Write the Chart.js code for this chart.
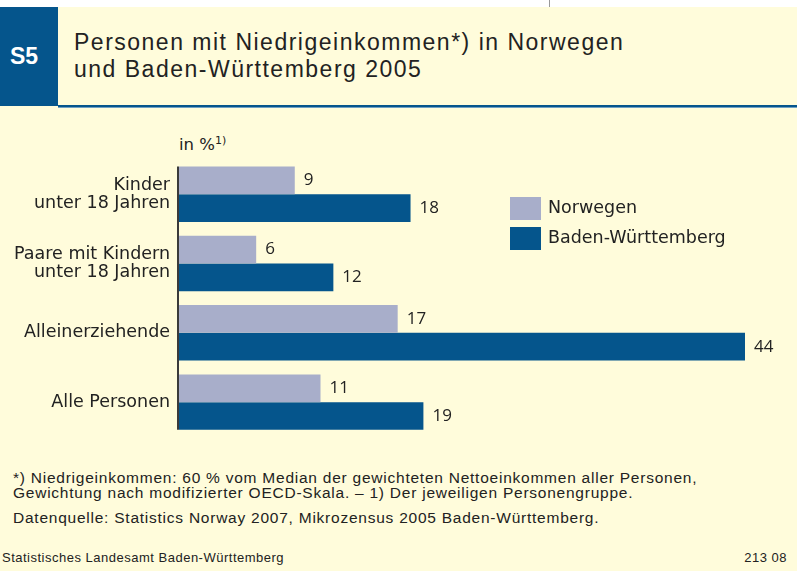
<!DOCTYPE html>
<html>
<head>
<meta charset="utf-8">
<script src="https://cdn.jsdelivr.net/npm/chart.js@4"></script>
<style>
  body { margin: 0; width: 797px; height: 571px; background: #fffcdb; position: relative; overflow: hidden; font-family: "Liberation Sans", Arial, sans-serif; color: #222; }
  .topstrip { position: absolute; left: 0; top: 0; width: 797px; height: 7px; background: #fff; }
  .topstrip .tick { position: absolute; left: 549px; top: 0; width: 1px; height: 7px; background: #999; }
  .badge { position: absolute; left: 0; top: 7px; width: 58px; height: 99px; background: #05558c; color: #fff; font-weight: bold; font-size: 23px; line-height: 99px; text-align: center; padding-right: 10px; box-sizing: border-box; }
  .title { position: absolute; left: 74px; top: 29px; font-size: 23px; line-height: 27px; letter-spacing: 1.5px; color: #222; }
  .rule { position: absolute; left: 58px; top: 105px; width: 739px; height: 2px; background: #05558c; border-bottom: 1px solid #6fa0c4; }
  .unit { position: absolute; left: 179px; top: 134px; font-family: "DejaVu Sans", sans-serif; font-size: 16.5px; }
  .unit sup { font-size: 11px; vertical-align: 6px; }
  canvas { position: absolute; left: 0; top: 120px; }
  .legend { position: absolute; left: 510px; top: 197px; font-family: "DejaVu Sans", sans-serif; font-size: 17.5px; }
  .legend div { height: 23px; margin-bottom: 7px; position: relative; }
  .legend span.box { position: absolute; left: 0; top: 0; width: 31px; height: 23px; }
  .legend span.txt { position: absolute; left: 38px; top: -1px; white-space: nowrap; line-height: 23px; }
  .notes { position: absolute; left: 13px; top: 470px; font-size: 15.5px; line-height: 15px; letter-spacing: 0.76px; }
  .src { position: absolute; left: 13px; top: 509px; font-size: 15.5px; letter-spacing: 0.76px; }
  .foot { position: absolute; left: 2px; top: 550px; font-size: 13px; letter-spacing: 0.5px; }
  .code { position: absolute; right: 10px; top: 550px; font-size: 13px; letter-spacing: 0.5px; }
</style>
</head>
<body>
<div class="topstrip"><div class="tick"></div></div>
<div class="badge">S5</div>
<div class="title">Personen mit Niedrigeinkommen*) in Norwegen<br>und Baden-Württemberg 2005</div>
<div class="rule"></div>
<div class="unit">in %<sup>1)</sup></div>
<canvas id="chart" width="797" height="344"></canvas>
<div class="legend" id="legend"></div>
<div class="notes">*) Niedrigeinkommen: 60 % vom Median der gewichteten Nettoeinkommen aller Personen,<br>Gewichtung nach modifizierter OECD-Skala. – 1) Der jeweiligen Personengruppe.</div>
<div class="src">Datenquelle: Statistics Norway 2007, Mikrozensus 2005 Baden-Württemberg.</div>
<div class="foot">Statistisches Landesamt Baden-Württemberg</div>
<div class="code">213 08</div>

<script>
  // categories and values (in %)
  const categories = [
    ['Kinder', 'unter 18 Jahren'],
    ['Paare mit Kindern', 'unter 18 Jahren'],
    ['Alleinerziehende'],
    ['Alle Personen']
  ];
  const norwegen = [9, 6, 17, 11];
  const badenWuerttemberg = [18, 12, 44, 19];
  const seriesNames = ['Norwegen', 'Baden-Württemberg'];
  const seriesColors = ['#a8aeca', '#05558c'];

  const labelFont = '"DejaVu Sans", sans-serif';

  // value labels at the end of every bar
  const valueLabels = {
    id: 'valueLabels',
    afterDatasetsDraw(chart) {
      const ctx = chart.ctx;
      ctx.save();
      ctx.font = '17px "Open Sans", sans-serif';
      ctx.fillStyle = '#222';
      ctx.textBaseline = 'middle';
      chart.data.datasets.forEach((ds, i) => {
        chart.getDatasetMeta(i).data.forEach((bar, j) => {
          ctx.fillText(ds.data[j], bar.x + 9, bar.y);
        });
      });
      ctx.restore();
    }
  };

  // vertical axis line only as tall as the bars
  const axisLine = {
    id: 'axisLine',
    afterDatasetsDraw(chart) {
      const first = chart.getDatasetMeta(0).data[0];
      const lastMeta = chart.getDatasetMeta(chart.data.datasets.length - 1).data;
      const last = lastMeta[lastMeta.length - 1];
      const ctx = chart.ctx;
      const x = chart.chartArea.left - 1;
      ctx.save();
      ctx.strokeStyle = '#3a3a3a';
      ctx.lineWidth = 2;
      ctx.beginPath();
      ctx.moveTo(x, first.y - first.height / 2);
      ctx.lineTo(x, last.y + last.height / 2);
      ctx.stroke();
      ctx.restore();
    }
  };

  const chart = new Chart(document.getElementById('chart'), {
    type: 'bar',
    data: {
      labels: categories,
      datasets: [
        { label: seriesNames[0], data: norwegen, backgroundColor: seriesColors[0] },
        { label: seriesNames[1], data: badenWuerttemberg, backgroundColor: seriesColors[1] }
      ]
    },
    options: {
      indexAxis: 'y',
      responsive: false,
      animation: false,
      layout: { padding: { left: 0, right: 52, top: 39.5, bottom: 12.5 } },
      datasets: { bar: { barPercentage: 1, categoryPercentage: 0.8, borderWidth: 0 } },
      scales: {
        x: {
          display: false,
          min: 0,
          max: Math.max(...badenWuerttemberg)
        },
        y: {
          grid: { display: false, drawTicks: false },
          border: { display: false },
          ticks: {
            color: '#222',
            padding: 9,
            font: { family: labelFont, size: 17.5, lineHeight: 1.04 }
          },
          afterFit(scale) { scale.width = 179; }
        }
      },
      plugins: {
        legend: { display: false },
        tooltip: { enabled: false }
      }
    },
    plugins: [valueLabels, axisLine]
  });

  // legend to the right of the bars
  const legend = document.getElementById('legend');
  chart.data.datasets.forEach(ds => {
    const row = document.createElement('div');
    row.innerHTML = '<span class="box" style="background:' + ds.backgroundColor + '"></span><span class="txt">' + ds.label + '</span>';
    legend.appendChild(row);
  });
</script>
</body>
</html>
